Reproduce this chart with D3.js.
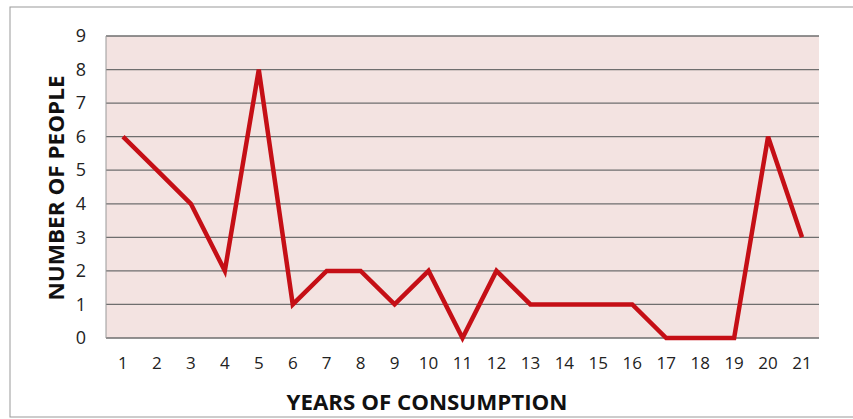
<!DOCTYPE html>
<html><head><meta charset="utf-8">
<script src="https://cdn.jsdelivr.net/npm/d3@7"></script>
<style>body{margin:0;background:#fff}</style>
</head><body>
<svg id="c" width="853" height="419"></svg>
<script>
const categories = ["1","2","3","4","5","6","7","8","9","10","11","12","13","14","15","16","17","18","19","20","21"];
const values = [6,5,4,2,8,1,2,2,1,2,0,2,1,1,1,1,0,0,0,6,3];
const yTicks = [0,1,2,3,4,5,6,7,8,9];
const xTitle = "YEARS OF CONSUMPTION";
const yTitle = "NUMBER OF PEOPLE";

const svg = d3.select("#c");
const font = "'Open Sans', Lato, sans-serif";
const m = {l:106, r:819, t:36, b:338};

svg.append("rect").attr("x",10).attr("y",7).attr("width",845).attr("height",410)
  .attr("fill","#fff").attr("stroke","#999").attr("stroke-width",1);

const x = d3.scaleBand().domain(categories).range([m.l,m.r]);
const y = d3.scaleLinear().domain([0,9]).range([m.b,m.t]);

svg.append("rect").attr("x",m.l).attr("y",m.t).attr("width",m.r-m.l).attr("height",m.b-m.t)
  .attr("fill","#f3e3e1");

svg.append("g").selectAll("line").data(yTicks).join("line")
  .attr("x1",m.l).attr("x2",m.r).attr("y1",d=>y(d)).attr("y2",d=>y(d))
  .attr("stroke","#6e6e6e").attr("stroke-width",1.3);
svg.append("line").attr("x1",m.l).attr("x2",m.l).attr("y1",m.t).attr("y2",m.b)
  .attr("stroke","#999").attr("stroke-width",1);

const ya = svg.append("g").attr("transform",`translate(${m.l},0)`)
  .call(d3.axisLeft(y).tickValues(yTicks).tickSize(0).tickPadding(20));
ya.select(".domain").remove();
ya.selectAll("text").attr("font-family",font).attr("font-size",18).attr("fill","#222");

const xa = svg.append("g").attr("transform",`translate(0,${m.b})`)
  .call(d3.axisBottom(x).tickSize(0).tickPadding(19));
xa.select(".domain").remove();
xa.selectAll("text").attr("font-family",font).attr("font-size",17).attr("fill","#222");

const line = d3.line().x((d,i)=>x(categories[i])+x.bandwidth()/2).y(d=>y(d));
svg.append("path").datum(values).attr("d",line).attr("fill","none")
  .attr("stroke","#c50f16").attr("stroke-width",4.5).attr("stroke-linejoin","miter");

svg.append("text").attr("x",427).attr("y",410).attr("text-anchor","middle")
  .attr("font-family",font).attr("font-weight","bold").attr("font-size",21).attr("fill","#111")
  .attr("textLength",281).attr("lengthAdjust","spacingAndGlyphs").text(xTitle);
svg.append("text").attr("transform",`translate(64,188) rotate(-90)`).attr("text-anchor","middle")
  .attr("font-family",font).attr("font-weight","bold").attr("font-size",21).attr("fill","#111")
  .attr("textLength",225).attr("lengthAdjust","spacingAndGlyphs").text(yTitle);
</script>
</body></html>
